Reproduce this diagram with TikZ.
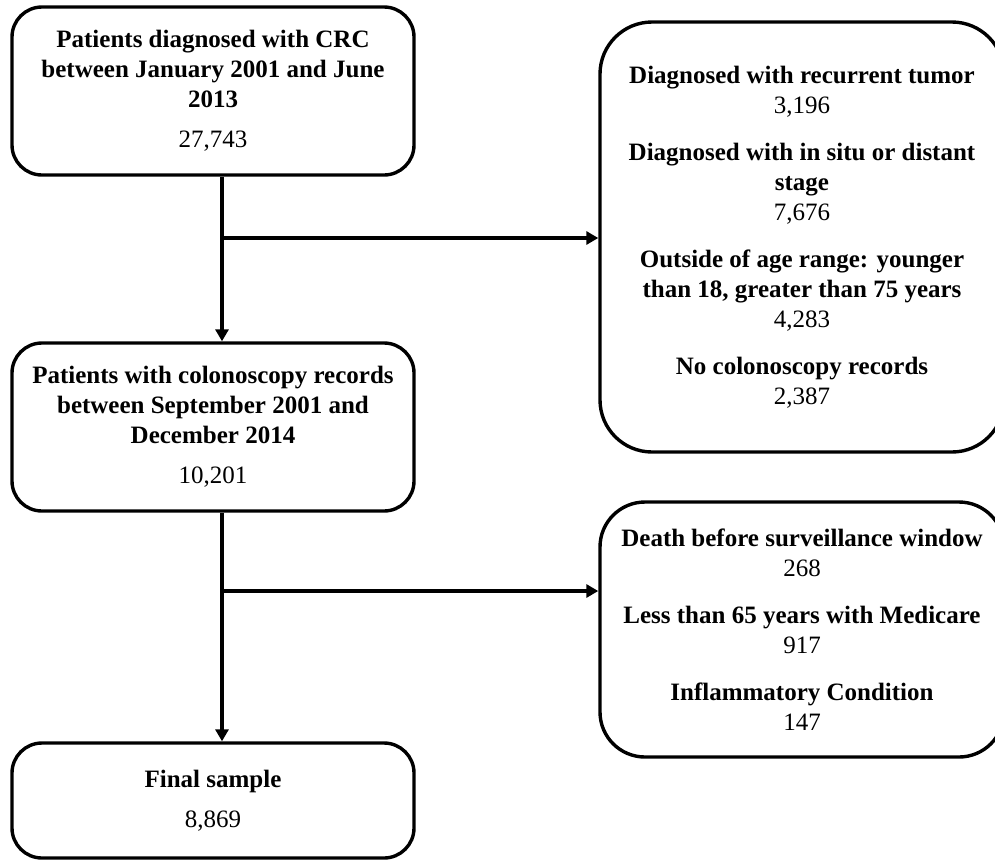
\documentclass[tikz,border=0pt]{standalone}
\usepackage{fontspec}
\setmainfont{Liberation Serif}
\usetikzlibrary{arrows.meta}

\begin{document}
\begin{tikzpicture}[x=1pt,y=-1pt,
  box/.style={draw,line width=3.4pt,rounded corners=30pt,align=center,
    inner sep=0pt,font=\fontsize{25}{30}\selectfont},
  excl/.style={box,rounded corners=52pt,minimum width=404pt},
  arr/.style={line width=3.4pt,-{Triangle[length=12pt,width=13pt]}}]

  \useasboundingbox (0,0) rectangle (995,863);
  \clip (0,0) rectangle (995,863);

  % main column
  \node[box,minimum width=402pt,minimum height=168pt] (crc) at (213,91)
    {\textbf{Patients diagnosed with CRC}\\ \textbf{between January 2001 and June}\\
     \textbf{2013}\\[10pt] 27,743};
  \node[box,minimum width=402pt,minimum height=168pt] (colon) at (213,427)
    {\textbf{Patients with colonoscopy records}\\ \textbf{between September 2001 and}\\
     \textbf{December 2014}\\[10pt] 10,201};
  \node[box,minimum width=402pt,minimum height=115pt] (final) at (213,800.5)
    {\textbf{Final sample}\\[10pt] 8,869};

  % exclusions
  \node[excl,minimum height=430pt] (excl1) at (802,237)
    {\textbf{Diagnosed with recurrent tumor}\\ 3,196\\[17pt]
     \textbf{Diagnosed with in situ or distant}\\ \textbf{stage}\\ 7,676\\[17pt]
     \textbf{Outside of age range: younger}\\ \textbf{than 18, greater than 75 years}\\ 4,283\\[17pt]
     \textbf{No colonoscopy records}\\ 2,387};
  \node[excl,minimum height=255pt,rounded corners=45pt] (excl2) at (802,629.5)
    {\textbf{Death before surveillance window}\\ 268\\[17pt]
     \textbf{Less than 65 years with Medicare}\\ 917\\[17pt]
     \textbf{Inflammatory Condition}\\ 147};

  \coordinate (j1) at (222,238);
  \coordinate (j2) at (222,591);

  \draw[arr] ([xshift=9pt]crc.south) -- ([xshift=9pt]colon.north);
  \draw[arr] ([xshift=9pt]colon.south) -- ([xshift=9pt]final.north);
  \draw[arr] (j1) -- (j1 -| excl1.west);
  \draw[arr] (j2) -- (j2 -| excl2.west);
\end{tikzpicture}
\end{document}
